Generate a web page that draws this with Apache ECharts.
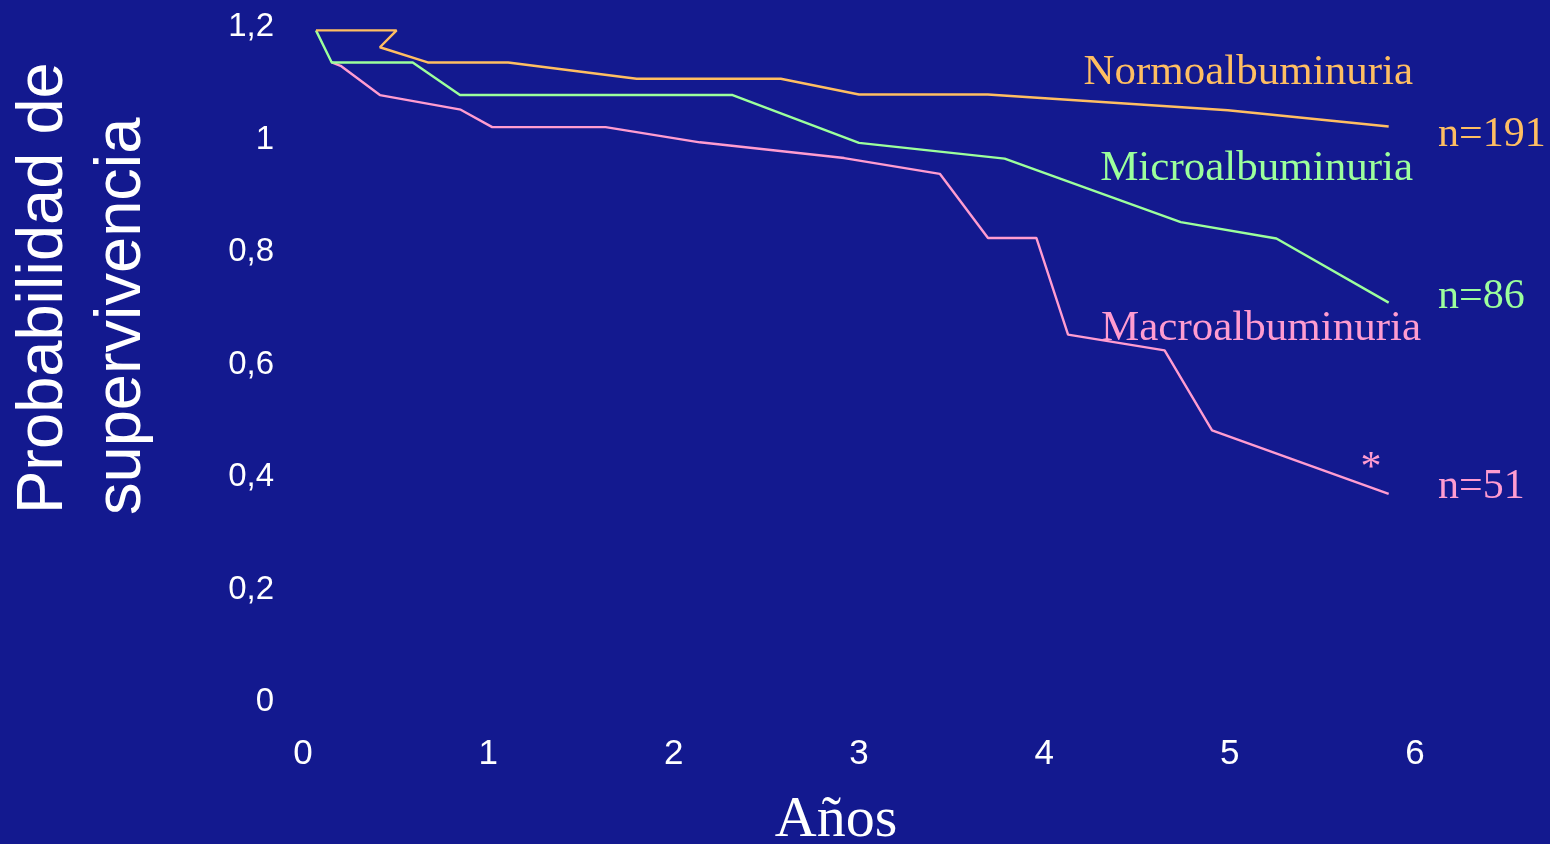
<!DOCTYPE html>
<html>
<head>
<meta charset="utf-8">
<script src="https://cdn.jsdelivr.net/npm/echarts@6/dist/echarts.min.js"></script>
<style>
  html, body { margin: 0; padding: 0; background: #13198F; }
  #chart { width: 1550px; height: 844px; }
</style>
</head>
<body>
<div id="chart"></div>
<script>
// Curvas de supervivencia por grado de albuminuria
const groupNames = ['Normoalbuminuria', 'Microalbuminuria', 'Macroalbuminuria'];
const groupSizes = ['n=191', 'n=86', 'n=51'];

const normoAnios = [0.07, 0.505, 0.415, 0.673, 1.107, 1.80, 2.578, 3.0, 3.695, 4.99, 5.858];
const normoProb  = [1.194, 1.194, 1.164, 1.137, 1.137, 1.108, 1.108, 1.08, 1.08, 1.052, 1.023];

const microAnios = [0.07, 0.155, 0.592, 0.847, 2.318, 3.0, 3.786, 4.736, 5.252, 5.858];
const microProb  = [1.194, 1.137, 1.137, 1.079, 1.079, 0.994, 0.966, 0.853, 0.824, 0.71];

const macroAnios = [0.155, 0.203, 0.415, 0.851, 1.021, 1.633, 2.141, 2.92, 3.436, 3.696, 3.957, 4.128, 4.649, 4.905, 5.858];
const macroProb  = [1.137, 1.131, 1.079, 1.053, 1.022, 1.022, 0.995, 0.967, 0.939, 0.825, 0.825, 0.653, 0.625, 0.483, 0.37];

const xTicks = [0, 1, 2, 3, 4, 5, 6];
const yTickLabels = { 0: '0', 0.2: '0,2', 0.4: '0,4', 0.6: '0,6', 0.8: '0,8', 1: '1', 1.2: '1,2' };

const colors = ['#FFBE62', '#9CFF9C', '#FF9CD0'];
const SERIF = '"Liberation Serif", "Times New Roman", serif';
const SANS = '"Liberation Sans", Arial, sans-serif';

function pairs(xs, ys) { return xs.map((x, i) => [x, ys[i]]); }

const seriesData = [pairs(normoAnios, normoProb), pairs(microAnios, microProb), pairs(macroAnios, macroProb)];

const chart = echarts.init(document.getElementById('chart'), null, { renderer: 'canvas' });

// label positions (px) for group names and sample sizes
const namePos = [[1413, 73], [1413, 169], [1421, 329]];
const sizePos = [[1438, 135], [1438, 297], [1438, 487]];

const graphics = [];
groupNames.forEach((name, i) => {
  graphics.push({
    type: 'text', x: namePos[i][0], y: namePos[i][1],
    style: { text: name, fill: colors[i], font: '43px ' + SERIF, align: 'right', verticalAlign: 'middle' }
  });
  graphics.push({
    type: 'text', x: sizePos[i][0], y: sizePos[i][1],
    style: { text: groupSizes[i], fill: colors[i], font: '42px ' + SERIF, align: 'left', verticalAlign: 'middle' }
  });
});
graphics.push({
  type: 'text', x: 1371, y: 469,
  style: { text: '*', fill: colors[2], font: '42px ' + SERIF, align: 'center', verticalAlign: 'middle' }
});
// vertical axis title, two lines
graphics.push({
  type: 'text', x: 44, y: 514, rotation: Math.PI / 2,
  style: { text: 'Probabilidad de', fill: '#FFFFFF', font: '65px ' + SANS, align: 'left', verticalAlign: 'middle' }
});
graphics.push({
  type: 'text', x: 122, y: 515, rotation: Math.PI / 2,
  style: { text: 'supervivencia', fill: '#FFFFFF', font: '65px ' + SANS, align: 'left', verticalAlign: 'middle' }
});
// horizontal axis title
graphics.push({
  type: 'text', x: 836, y: 821,
  style: { text: 'Años', fill: '#FFFFFF', font: '58px ' + SERIF, align: 'center', verticalAlign: 'middle' }
});

chart.setOption({
  backgroundColor: '#13198F',
  animation: false,
  grid: { left: 303, right: 135, top: 27, bottom: 142 },
  xAxis: {
    type: 'value', min: 0, max: 6, interval: 1,
    axisLine: { show: false }, axisTick: { show: false }, splitLine: { show: false },
    axisLabel: { color: '#FFFFFF', fontSize: 35, fontFamily: SANS, margin: 35,
      formatter: v => xTicks.includes(v) ? String(v) : '' }
  },
  yAxis: {
    type: 'value', min: 0, max: 1.2, interval: 0.2,
    axisLine: { show: false }, axisTick: { show: false }, splitLine: { show: false },
    axisLabel: { color: '#FFFFFF', fontSize: 33, fontFamily: SANS, margin: 29, padding: [6, 0, 0, 0],
      formatter: v => yTickLabels[Math.round(v * 10) / 10] || '' }
  },
  series: seriesData.map((d, i) => ({
    name: groupNames[i], type: 'line', data: d, symbol: 'none',
    lineStyle: { color: colors[i], width: 2.4 }, z: 3 - i
  })),
  graphic: graphics
});
</script>
</body>
</html>
